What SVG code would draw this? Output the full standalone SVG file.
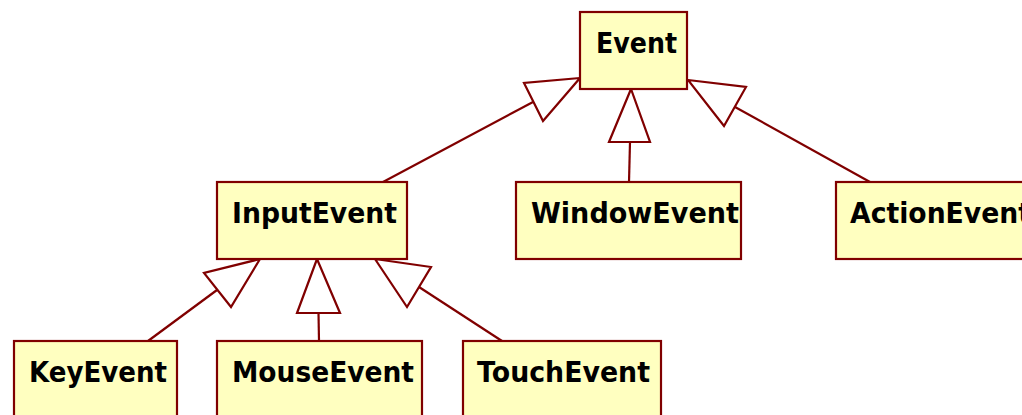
<svg xmlns="http://www.w3.org/2000/svg" width="1022" height="415" viewBox="0 0 1022 415">
<style>
.box{fill:#FFFFC0;stroke:#800000;stroke-width:2.2}
.lbl{font-family:"DejaVu Sans",Verdana,sans-serif;font-weight:bold;font-size:29px;fill:#000}
.edge{stroke:#800000;stroke-width:2.2;fill:none}
.head{fill:#fff;stroke:#800000;stroke-width:2.2;stroke-linejoin:miter}
</style>
<rect width="1022" height="415" fill="#fff"/>
<g id="connectors">
<line class="edge" x1="533" y1="102" x2="383" y2="182"/>
<polygon class="head" points="580,78 524,83 543,121"/>
<line class="edge" x1="630" y1="142" x2="629" y2="182"/>
<polygon class="head" points="631,89 609,142 650,142"/>
<line class="edge" x1="735" y1="107" x2="870" y2="182"/>
<polygon class="head" points="688,80 746,87 724,126"/>
<line class="edge" x1="217" y1="290" x2="148" y2="341"/>
<polygon class="head" points="260,259 204,273 231,307"/>
<line class="edge" x1="318.5" y1="313" x2="319" y2="341"/>
<polygon class="head" points="317,259 297,313 340,313"/>
<line class="edge" x1="419" y1="287" x2="502" y2="341"/>
<polygon class="head" points="375,259 431,267 407,307"/>
</g>
<g id="node-Event"><rect class="box" x="580" y="12" width="107" height="77"/><text class="lbl" x="596" y="53" textLength="81" lengthAdjust="spacingAndGlyphs">Event</text></g>
<g id="node-InputEvent"><rect class="box" x="217" y="182" width="190" height="77"/><text class="lbl" x="232" y="223" textLength="165" lengthAdjust="spacingAndGlyphs">InputEvent</text></g>
<g id="node-WindowEvent"><rect class="box" x="516" y="182" width="225" height="77"/><text class="lbl" x="531" y="223" textLength="208" lengthAdjust="spacingAndGlyphs">WindowEvent</text></g>
<g id="node-ActionEvent"><rect class="box" x="836" y="182" width="220" height="77"/><text class="lbl" x="850" y="223" textLength="181" lengthAdjust="spacingAndGlyphs">ActionEvent</text></g>
<g id="node-KeyEvent"><rect class="box" x="14" y="341" width="163" height="80"/><text class="lbl" x="29" y="382" textLength="138" lengthAdjust="spacingAndGlyphs">KeyEvent</text></g>
<g id="node-MouseEvent"><rect class="box" x="217" y="341" width="205" height="80"/><text class="lbl" x="232" y="382" textLength="182" lengthAdjust="spacingAndGlyphs">MouseEvent</text></g>
<g id="node-TouchEvent"><rect class="box" x="463" y="341" width="198" height="80"/><text class="lbl" x="477" y="382" textLength="173" lengthAdjust="spacingAndGlyphs">TouchEvent</text></g>
</svg>
